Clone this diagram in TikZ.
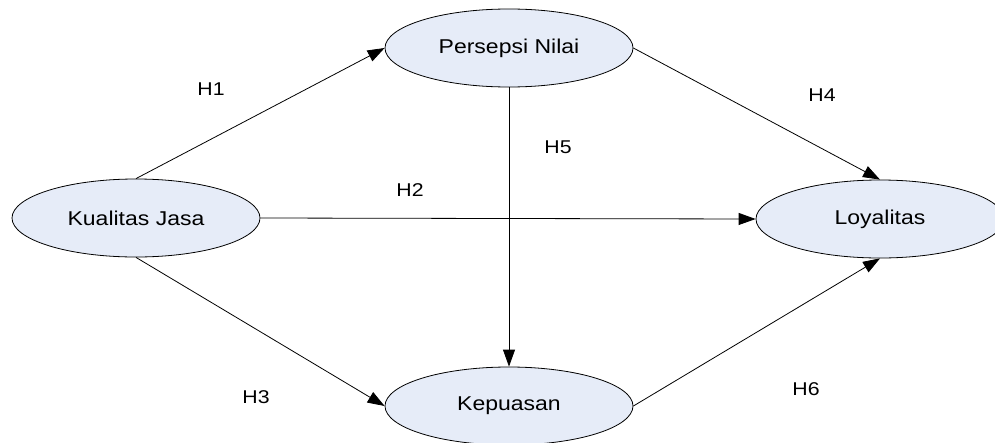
\documentclass[tikz,border=0pt]{standalone}
\usepackage{fontspec}
\setmainfont{Liberation Sans}[FakeStretch=1.15]
\usepackage{tikz}
\usetikzlibrary{shapes.geometric, arrows.meta, positioning}
\definecolor{constructfill}{RGB}{230,236,248}

\begin{document}
\begin{tikzpicture}[
    x=1pt, y=-1pt,
    construct/.style={ellipse, draw=black, line width=0.8pt, fill=constructfill, minimum width=248pt, minimum height=78pt, inner sep=0pt, font=\fontsize{20}{24}\selectfont},
    arrow/.style={-{Triangle[length=17pt, width=12pt]}, line width=0.8pt},
    hyp/.style={font=\fontsize{18.5}{22}\selectfont}
]
    \useasboundingbox (0,0) rectangle (995,442);

    \node[construct] (kj) at (136,218) {Kualitas Jasa};
    \node[construct] (pn) at (509,48) {Persepsi Nilai};
    \node[construct] (ly) at (880,219) {Loyalitas};
    \node[construct] (kp) at (509,406) {Kepuasan};

    % Paths
    \draw[arrow] (kj.north) -- (pn.west);
    \draw[arrow] (kj.east) -- (ly.west);
    \draw[arrow] (kj.south) -- (kp.west);
    \draw[arrow] (pn.east) -- (ly.north);
    \draw[arrow] (pn.south) -- (kp.north);
    \draw[arrow] (kp.east) -- (ly.south);

    % Hypotheses
    \node[hyp] (h1) at (211,89) {H1};
    \node[hyp] (h2) at (410,190) {H2};
    \node[hyp] (h3) at (256,397) {H3};
    \node[hyp] (h4) at (822,95) {H4};
    \node[hyp] (h5) at (558,147) {H5};
    \node[hyp] (h6) at (806,389) {H6};
\end{tikzpicture}
\end{document}
